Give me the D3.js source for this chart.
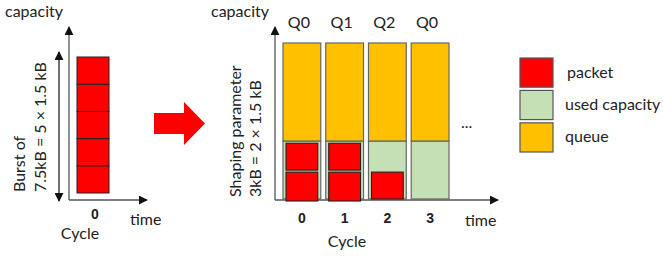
<!DOCTYPE html>
<html lang="en">
<head>
  <meta charset="utf-8">
  <title>Burst shaping</title>
  <script src="https://d3js.org/d3.v7.min.js"></script>
  <style>
    body { margin: 0; background: #fff; }
    svg { display: block; font-family: Lato, "Open Sans", sans-serif; }
    .lbl { font-size: 16px; fill: #222; }
    .tick text { font-weight: bold; font-size: 14px; fill: #222; }
  </style>
</head>
<body>
  <svg id="chart" width="663" height="257"></svg>
  <script>
    // data
    const burstCycles = [0];
    const burstPackets = 5;          // 5 x 1.5 kB
    const cycles = [0, 1, 2, 3];
    const queues = ["Q0", "Q1", "Q2", "Q0"];
    const packetsPerCycle = [2, 2, 1, 0];
    const packetSize = 1.5;          // kB
    const shapingCap = 3;            // kB
    const queueDepth = 8.1;          // kB (drawn height of a queue)
    const legendItems = ["packet", "used capacity", "queue"];

    const RED = "#ff0000", GREEN = "#c5e0b4", ORANGE = "#ffc000";

    const svg = d3.select("#chart");

    const defs = svg.append("defs");
    defs.append("marker")
      .attr("id", "arr")
      .attr("viewBox", "0 0 10 10")
      .attr("refX", 9).attr("refY", 5)
      .attr("markerWidth", 9).attr("markerHeight", 9)
      .attr("markerUnits", "userSpaceOnUse")
      .attr("orient", "auto-start-reverse")
      .append("path").attr("d", "M0,0L10,5L0,10Z").attr("fill", "#111");

    function axisLines(x0, y0, xEnd, yEnd) {
      svg.append("line").attr("x1", x0).attr("y1", y0).attr("x2", x0).attr("y2", yEnd)
        .attr("stroke", "#555").attr("stroke-width", 1.3).attr("marker-end", "url(#arr)");
      svg.append("line").attr("x1", x0).attr("y1", y0).attr("x2", xEnd).attr("y2", y0)
        .attr("stroke", "#555").attr("stroke-width", 1.3).attr("marker-end", "url(#arr)");
    }

    // ---------- left panel: the burst ----------
    const xL = d3.scaleBand().domain(burstCycles).range([77, 109]);
    const yL = d3.scaleLinear().domain([0, burstPackets]).range([193, 57]);

    axisLines(69, 200, 147, 27);

    svg.append("g")
      .selectAll("rect")
      .data(d3.range(burstPackets))
      .join("rect")
      .attr("x", xL(0))
      .attr("width", xL.bandwidth())
      .attr("y", d => yL(d + 1))
      .attr("height", d => yL(d) - yL(d + 1))
      .attr("fill", RED)
      .attr("stroke", "#222")
      .attr("stroke-width", 1);

    // double arrow for burst size
    svg.append("line")
      .attr("x1", 59).attr("x2", 59)
      .attr("y1", yL(0) + 8).attr("y2", yL(burstPackets) - 5)
      .attr("stroke", "#111").attr("stroke-width", 1.2)
      .attr("marker-start", "url(#arr)").attr("marker-end", "url(#arr)");

    svg.append("g")
      .attr("transform", "translate(0,209)")
      .call(d3.axisBottom(xL).tickSize(0).tickPadding(0))
      .call(g => g.select(".domain").remove())
      .selectAll("text").attr("dx", 2);

    svg.append("text").attr("class", "lbl").attr("x", 5).attr("y", 17).text("capacity");
    svg.append("text").attr("class", "lbl").attr("x", 130).attr("y", 225).text("time");
    svg.append("text").attr("class", "lbl").attr("x", 80).attr("y", 239)
      .attr("text-anchor", "middle").text("Cycle");
    svg.append("text").attr("class", "lbl")
      .attr("transform", "translate(25,192) rotate(-90)").text("Burst of");
    svg.append("text").attr("class", "lbl")
      .attr("transform", "translate(46,192) rotate(-90)")
      .text("7.5kB = " + burstPackets + " \u00d7 " + packetSize + " kB");

    // ---------- big arrow ----------
    svg.append("path")
      .attr("d", "M154,113H184V102L205,123.5L184,145V134H154Z")
      .attr("fill", RED);

    // ---------- right panel: shaped cycles ----------
    const xR = d3.scaleBand().domain(cycles).range([283, 449]).paddingInner(0.116);
    const yR = d3.scaleLinear().domain([0, queueDepth]).range([199, 43]);

    axisLines(275, 200, 498, 27);

    const bars = svg.append("g")
      .selectAll("g")
      .data(cycles)
      .join("g")
      .attr("transform", d => `translate(${xR(d)},0)`);

    // queue (orange)
    bars.append("rect")
      .attr("x", 0).attr("width", xR.bandwidth())
      .attr("y", yR(queueDepth))
      .attr("height", yR(shapingCap) - yR(queueDepth))
      .attr("fill", ORANGE).attr("stroke", "#666").attr("stroke-width", 1.2);

    // used capacity (green)
    bars.append("rect")
      .attr("x", 0).attr("width", xR.bandwidth())
      .attr("y", yR(shapingCap))
      .attr("height", yR(0) - yR(shapingCap))
      .attr("fill", GREEN).attr("stroke", "#666").attr("stroke-width", 1.2);

    // packets
    bars.each(function(c, i) {
      const n = packetsPerCycle[i];
      d3.select(this).selectAll("rect.pkt")
        .data(d3.range(n))
        .join("rect")
        .attr("class", "pkt")
        .attr("x", 3)
        .attr("width", xR.bandwidth() - 6)
        .attr("y", k => yR((k + 1) * packetSize) + 2)
        .attr("height", k => yR(k * packetSize) - yR((k + 1) * packetSize) - (k === n - 1 ? 2 : 0))
        .attr("fill", RED).attr("stroke", "#222").attr("stroke-width", 1.1);
    });

    // queue labels
    svg.append("g")
      .selectAll("text")
      .data(cycles)
      .join("text")
      .attr("class", "lbl")
      .attr("x", d => xR(d) + xR.bandwidth() / 2 - 3)
      .attr("y", 28)
      .attr("text-anchor", "middle")
      .text((d, i) => queues[i]);

    svg.append("g")
      .attr("transform", "translate(0,213)")
      .call(d3.axisBottom(xR).tickSize(0).tickPadding(0))
      .call(g => g.select(".domain").remove());

    svg.append("text").attr("class", "lbl").attr("x", 211).attr("y", 17).text("capacity");
    svg.append("text").attr("class", "lbl").attr("x", 465).attr("y", 226).text("time");
    svg.append("text").attr("class", "lbl").attr("x", 347).attr("y", 247)
      .attr("text-anchor", "middle").text("Cycle");
    svg.append("text").attr("class", "lbl").attr("x", 461).attr("y", 128).text("...");
    svg.append("text").attr("class", "lbl")
      .attr("transform", "translate(241,197) rotate(-90)").text("Shaping parameter");
    svg.append("text").attr("class", "lbl")
      .attr("transform", "translate(261,197) rotate(-90)")
      .text("3kB = " + (shapingCap / packetSize) + " \u00d7 " + packetSize + " kB");

    // ---------- legend ----------
    const legColors = [RED, GREEN, ORANGE];
    const yLeg = d3.scaleBand().domain(legendItems).range([58, 152]).paddingInner(0.1);
    const leg = svg.append("g")
      .selectAll("g")
      .data(legendItems)
      .join("g")
      .attr("transform", d => `translate(520,${yLeg(d)})`);
    leg.append("rect")
      .attr("width", 33).attr("height", yLeg.bandwidth())
      .attr("fill", (d, i) => legColors[i])
      .attr("stroke", "#555").attr("stroke-width", 1.2);
    leg.append("text")
      .attr("class", "lbl")
      .attr("x", (d, i) => i === 0 ? 47 : 45)
      .attr("y", yLeg.bandwidth() / 2 + 5)
      .text(d => d);
  </script>
</body>
</html>
